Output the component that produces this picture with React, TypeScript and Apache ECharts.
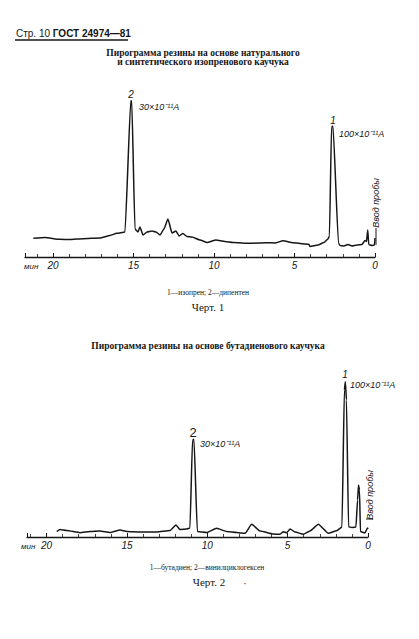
import React, { useEffect, useRef } from "react";
import * as echarts from "echarts";

// Chart 1: pyrogram of natural / synthetic isoprene rubber (time in min, signal in arbitrary units)
const time1 = [21.22, 20.5, 19.57, 18.94, 18.14, 17.08, 16.46, 16.04, 15.53, 15.17, 15.11, 14.91, 14.72, 14.6, 14.41, 14.16, 13.85, 13.6, 13.35, 13.11, 12.86, 12.61, 12.36, 12.17, 11.93, 11.68, 11.37, 10.87, 10.43, 9.88, 9.32, 8.82, 7.76, 6.73, 6.21, 5.71, 5.09, 4.66, 4.1, 4.04, 3.54, 3.17, 2.92, 2.83, 2.7, 2.61, 2.27, 2.17, 1.93, 1.68, 1.43, 1.12, 0.81, 0.62, 0.53, 0.45, 0.39, 0.19, 0.03, 0.0];
const signal1 = [18.7, 19.5, 17.7, 17.5, 18.3, 19, 21.5, 23.7, 25, 156.3, 156, 28, 25, 30, 22, 25, 26, 25, 22, 28, 38, 24, 26, 21, 23.5, 20.5, 20, 17, 14.5, 17, 15.5, 14.5, 13.7, 14.3, 14, 16.3, 14.3, 13.5, 12.7, 10.5, 12, 14.5, 18, 21, 130, 131, 14, 11.5, 11, 12.5, 11, 12, 12.5, 16.5, 15.5, 27, 12.5, 11.5, 12, 19];

// Chart 2: pyrogram of butadiene rubber
const time2 = [19.37, 19.17, 18.75, 17.92, 17.3, 16.68, 16.05, 15.43, 15.0, 14.19, 13.15, 12.32, 11.95, 11.7, 11.28, 11.08, 10.92, 10.83, 10.62, 10.04, 9.42, 8.79, 8.17, 7.65, 7.24, 6.72, 5.89, 5.48, 5.27, 5.06, 4.85, 4.54, 4.03, 3.61, 3.09, 2.47, 1.95, 1.62, 1.47, 1.41, 1.34, 1.21, 1.0, 0.75, 0.65, 0.59, 0.53, 0.47, 0.19, 0.03, 0.0];
const signal2 = [5.5, 7.5, 6.5, 4.3, 5.5, 6, 4.5, 7, 5.5, 5, 5, 6.5, 12, 7.5, 8, 9, 97, 97.7, 5.5, 4.5, 8.7, 5.5, 4.5, 3.7, 12.7, 6, 3, 2.7, 5.3, 4.3, 8, 5, 2.7, 6, 12.7, 3.7, 6.3, 10, 147, 155.3, 137, 10.3, 9.5, 10, 37, 52, 47, 5.5, 4, 9, 8];

const tickLabels = [0, 5, 10, 15, 20];

const INK = "#161616";

export default function App() {
  const ref = useRef<HTMLDivElement>(null);

  useEffect(() => {
    if (!ref.current) return;
    const chart = echarts.init(ref.current, null, { renderer: "svg" });

    const xAxisBase = (gridIndex: number, max: number) => ({
      type: "value" as const,
      gridIndex,
      min: 0,
      max,
      interval: 5,
      inverse: true,
      splitLine: { show: false },
      axisLine: { show: true, lineStyle: { color: INK, width: 1.3 } },
      axisTick: { show: true, inside: true, length: 4, lineStyle: { color: INK, width: 1 } },
      minorTick: { show: true, splitNumber: 5, length: 3, lineStyle: { color: INK, width: 0.8 } },
      axisLabel: {
        show: true,
        margin: 3,
        showMaxLabel: false,
        color: INK,
        fontSize: 10,
        fontStyle: "italic",
        fontFamily: "Liberation Sans",
        formatter: (v: number) => (tickLabels.includes(v) ? String(v) : ""),
      },
    });

    const yAxisBase = (gridIndex: number) => ({
      type: "value" as const,
      gridIndex,
      min: 0,
      max: 160,
      show: false,
    });

    const lineSeries = (idx: number, t: number[], s: number[]) => ({
      type: "line" as const,
      xAxisIndex: idx,
      yAxisIndex: idx,
      data: t.map((tt, i) => [tt, s[i]]),
      showSymbol: false,
      smooth: 0.15,
      smoothMonotone: "x" as const,
      lineStyle: { color: INK, width: 1.5 },
    });

    const sans = "Liberation Sans";
    const serif = "Liberation Serif";

    const text = (x: number, y: number, t: string, extra: any = {}) => ({
      type: "text",
      x,
      y,
      style: {
        text: t,
        fill: INK,
        fontFamily: serif,
        fontSize: 10,
        align: "center",
        verticalAlign: "middle",
        ...extra,
      },
    });

    chart.setOption({
      animation: false,
      backgroundColor: "#ffffff",
      grid: [
        { left: 25, top: 97, width: 350, height: 160 },
        { left: 27, top: 377, width: 341, height: 160 },
      ],
      xAxis: [xAxisBase(0, 21.74), xAxisBase(1, 21.22)],
      yAxis: [yAxisBase(0), yAxisBase(1)],
      series: [lineSeries(0, time1, signal1), lineSeries(1, time2, signal2)],
      graphic: [
        {
          type: "text",
          x: 16,
          y: 33,
          style: {
            text: "{a|Стр. 10 }{b|ГОСТ 24974—81}",
            verticalAlign: "middle",
            rich: {
              a: { fontFamily: sans, fontSize: 10, fill: INK, fontWeight: "normal" },
              b: { fontFamily: sans, fontSize: 10, fill: INK, fontWeight: "bold" },
            },
          },
        },
        { type: "line", shape: { x1: 15, y1: 40, x2: 128, y2: 40 }, style: { stroke: INK, lineWidth: 1.5 } },
        text(203, 53, "Пирограмма резины на основе натурального", { fontWeight: "bold", fontSize: 9.5 }),
        text(203, 62, "и синтетического изопренового каучука", { fontWeight: "bold", fontSize: 9.5 }),
        text(131, 94, "2", { fontFamily: sans, fontStyle: "italic", fontSize: 10 }),
        text(139, 107, "30×10⁻¹¹A", { fontFamily: sans, fontStyle: "italic", fontSize: 9, align: "left" }),
        text(333, 120, "1", { fontFamily: sans, fontStyle: "italic", fontSize: 10 }),
        text(339, 134, "100×10⁻¹¹A", { fontFamily: sans, fontStyle: "italic", fontSize: 9, align: "left" }),
        {
          type: "text",
          x: 376,
          y: 203,
          rotation: Math.PI / 2,
          style: {
            text: "Ввод пробы",
            fill: INK,
            fontFamily: sans,
            fontStyle: "italic",
            fontSize: 9,
            align: "center",
            verticalAlign: "middle",
          },
        },
        { type: "line", shape: { x1: 376, y1: 228, x2: 376, y2: 245 }, style: { stroke: INK, lineWidth: 1 } },
        text(24, 266, "мин", { fontFamily: sans, fontStyle: "italic", fontSize: 8, align: "left" }),
        text(208, 292, "1—изопрен; 2—дипентен", { fontSize: 7.5 }),
        text(208, 307, "Черт. 1", { fontSize: 11 }),

        text(208, 346, "Пирограмма резины на основе бутадиенового каучука", { fontWeight: "bold", fontSize: 9.5 }),
        text(345, 374, "1", { fontFamily: sans, fontStyle: "italic", fontSize: 10 }),
        text(350, 385, "100×10⁻¹¹A", { fontFamily: sans, fontStyle: "italic", fontSize: 9, align: "left" }),
        text(193, 432, "2", { fontFamily: sans, fontSize: 13 }),
        text(200, 444, "30×10⁻¹¹A", { fontFamily: sans, fontStyle: "italic", fontSize: 9, align: "left" }),
        {
          type: "text",
          x: 370,
          y: 495,
          rotation: Math.PI / 2,
          style: {
            text: "Ввод пробы",
            fill: INK,
            fontFamily: sans,
            fontStyle: "italic",
            fontSize: 9,
            align: "center",
            verticalAlign: "middle",
          },
        },
        { type: "line", shape: { x1: 366, y1: 519, x2: 373, y2: 519 }, style: { stroke: INK, lineWidth: 1 } },
        text(21, 546, "мин", { fontFamily: sans, fontStyle: "italic", fontSize: 8, align: "left" }),
        text(207, 567, "1—бутадиен; 2—винилциклогексен", { fontSize: 7.5 }),
        text(209, 582, "Черт. 2", { fontSize: 11 }),
        text(245, 583, "·", { fontSize: 10 }),
      ],
    });

    return () => chart.dispose();
  }, []);

  return (
    <div
      ref={ref}
      style={{ position: "fixed", left: 0, top: 0, width: 419, height: 639, background: "#fff" }}
    />
  );
}
